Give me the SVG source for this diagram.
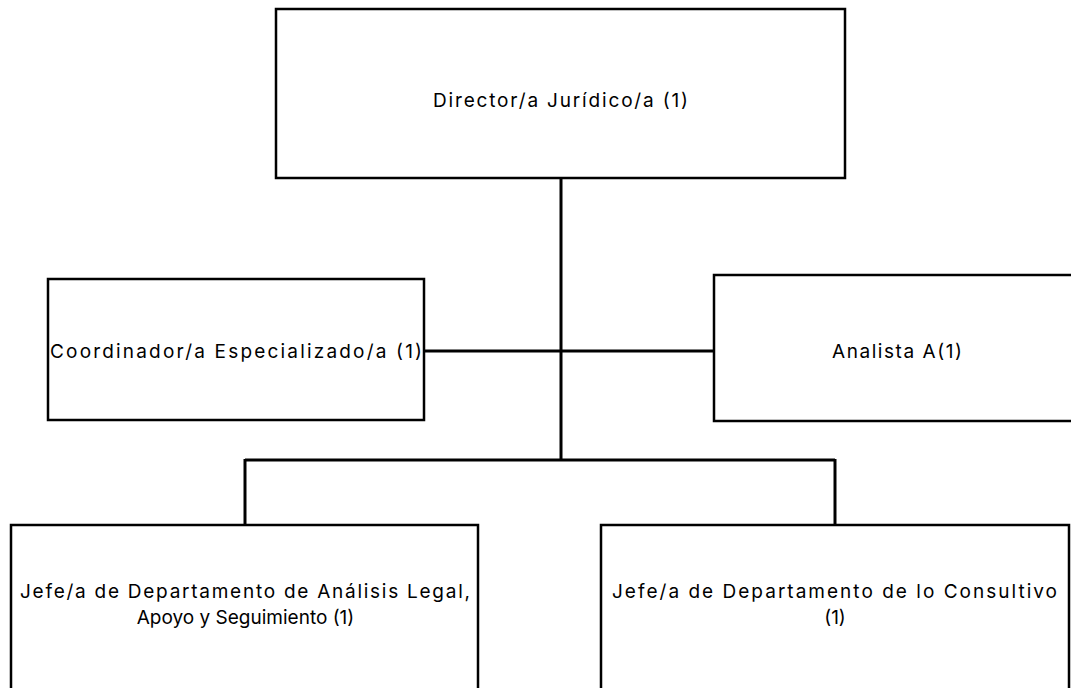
<svg xmlns="http://www.w3.org/2000/svg" width="1071" height="688" viewBox="0 0 1071 688">
<style>
.box{fill:#fff;stroke:#000;stroke-width:2.5}
.ln{fill:none;stroke:#000;stroke-width:3}
text{font-family:Inter,"Noto Sans",sans-serif;font-size:19px;fill:#000;text-anchor:middle}
</style>
<rect width="1071" height="688" fill="#fff"/>
<g id="connectors">
<line class="ln" x1="561" y1="178" x2="561" y2="461"/>
<line class="ln" x1="424" y1="351" x2="714" y2="351"/>
<line class="ln" x1="245" y1="460" x2="835" y2="460"/>
<line class="ln" x1="245" y1="459" x2="245" y2="525"/>
<line class="ln" x1="835" y1="459" x2="835" y2="525"/>
</g>
<g id="director">
<rect class="box" x="276" y="9" width="569" height="169"/>
<text x="560.5" y="107" textLength="255" lengthAdjust="spacing">Director/a Jurídico/a (1)</text>
</g>
<g id="coordinador">
<rect class="box" x="48" y="279" width="376" height="141"/>
<text x="236" y="358" textLength="372" lengthAdjust="spacing">Coordinador/a Especializado/a  (1)</text>
</g>
<g id="analista">
<rect class="box" x="714" y="275" width="366" height="146"/>
<text x="897" y="358" textLength="130" lengthAdjust="spacing">Analista A(1)</text>
</g>
<g id="jefe-analisis">
<rect class="box" x="11" y="525" width="467" height="175"/>
<text x="245" y="598" textLength="450" lengthAdjust="spacing">Jefe/a de Departamento de Análisis Legal,</text>
<text x="245.5" y="624">Apoyo y Seguimiento (1)</text>
</g>
<g id="jefe-consultivo">
<rect class="box" x="601" y="525" width="468" height="175"/>
<text x="834.5" y="598" textLength="445" lengthAdjust="spacing">Jefe/a de Departamento de lo Consultivo</text>
<text x="835" y="624">(1)</text>
</g>
</svg>
